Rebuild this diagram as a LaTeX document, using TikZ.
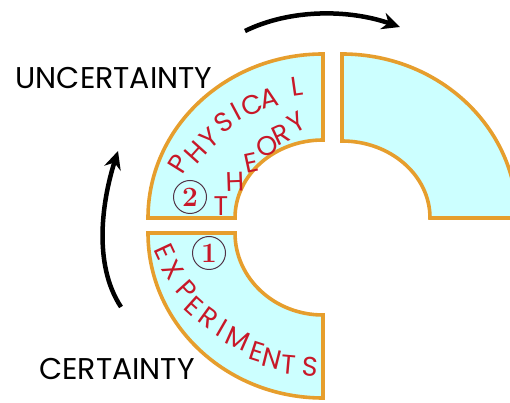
\documentclass[tikz,border=0pt]{standalone}
\usepackage{fontspec}
\newfontfamily\handfont{Poppins}
\usetikzlibrary{arrows.meta}
\definecolor{segfill}{RGB}{204,255,255}
\definecolor{segedge}{RGB}{230,158,45}
\definecolor{letterred}{RGB}{200,24,40}
\definecolor{ringgray}{RGB}{80,50,70}
\tikzset{
  segment/.style={draw=segedge, fill=segfill, line width=3.6pt, line join=miter},
  letter/.style={text=letterred, font=\handfont\fontsize{27}{27}\selectfont, inner sep=0pt},
  endword/.style={font=\handfont\fontsize{30}{30}\selectfont, inner sep=0pt},
  stepnum/.style={circle, draw=ringgray, line width=1pt, minimum size=33pt, inner sep=0pt, text=letterred, font=\bfseries\fontsize{28}{28}\selectfont},
  flow/.style={line width=4.5pt, -{Stealth[length=18pt, width=17pt]}}
}
\begin{document}
\begin{tikzpicture}[x=1pt, y=1pt]
  \useasboundingbox (0,0) rectangle (510,403);
  \clip (0,0) rectangle (510,403);

  \draw[segment] (148,185) arc[start angle=180, end angle=90, x radius=175, y radius=164]
    -- (323,263) arc[start angle=90, end angle=180, x radius=88, y radius=78] -- cycle;
  \draw[segment] (148,170) arc[start angle=180, end angle=270, x radius=175, y radius=165]
    -- (323,88) arc[start angle=270, end angle=180, x radius=88, y radius=82] -- cycle;
  \draw[segment] (342,349) arc[start angle=90, end angle=0, x radius=175, y radius=164]
    -- (430,185) arc[start angle=0, end angle=90, x radius=88, y radius=77] -- cycle;

  % letters along the segments
  \foreach \ch/\x/\y/\r [count=\i] in {P/179/239/58, H/196/251/48, Y/209/265/40, S/224/281/35,
      I/236/291/28, C/252/298/20, A/269/305/14, L/297/317/8}
    \node[letter, rotate=\r] (phys\i) at (\x,\y) {\ch};
  \foreach \ch/\x/\y/\r [count=\i] in {T/221/197/0, H/235/221/2, E/251/240/12, O/267/257/20,
      R/281/268/25, Y/297/281/30}
    \node[letter, rotate=\r] (theo\i) at (\x,\y) {\ch};
  \foreach \ch/\x/\y/\r [count=\i] in {E/165/151/-65, X/173/133/-55, P/187/113/-48, E/194/97/-42,
      R/209/85/-36, I/222/75/-30, M/238/64/-24, E/257/51/-18, N/272/44/-14, T/289/38/-5, S/310/36/-5}
    \node[letter, rotate=\r] (expt\i) at (\x,\y) {\ch};

  \node[stepnum] (stepone) at (209,150) {1};
  \node[stepnum] (steptwo) at (190,206) {2};

  \node[endword] (uncert) at (114,325) {UNCERTAINTY};
  \node[endword] (cert) at (117,34) {CERTAINTY};

  \coordinate (topstart) at (245,372);
  \coordinate (topend) at (400,376);
  \coordinate (leftstart) at (121,96);
  \coordinate (leftend) at (118,252);
  \draw[flow] (topstart) .. controls (290,394) and (348,394) .. (topend);
  \draw[flow] (leftstart) .. controls (92,140) and (103,205) .. (leftend);
\end{tikzpicture}
\end{document}
